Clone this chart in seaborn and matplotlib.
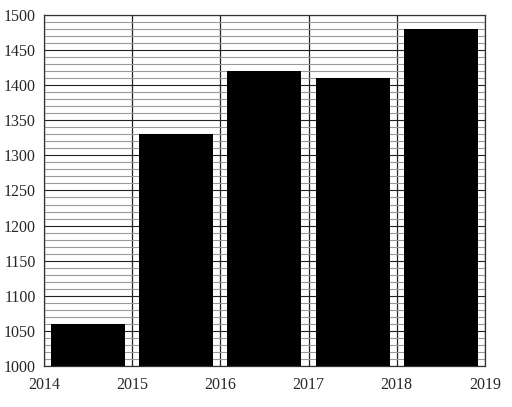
import numpy as np
import matplotlib
matplotlib.use('Agg')
import matplotlib.pyplot as plt
from matplotlib.ticker import MultipleLocator
import seaborn as sns

# data
periods = ['2014-2015', '2015-2016', '2016-2017', '2017-2018', '2018-2019']
values = [1060, 1330, 1420, 1410, 1480]
year_labels = ['2014', '2015', '2016', '2017', '2018', '2019']

sns.set_style('white')
plt.rcParams['font.family'] = ['Liberation Serif', 'DejaVu Serif']

fig = plt.figure(figsize=(5.12, 4.07), dpi=100)
ax = fig.add_axes([0.086, 0.101, 0.861, 0.862])

sns.barplot(x=periods, y=values, order=periods, color='black', saturation=1,
            width=0.84, linewidth=0, edgecolor='black', ax=ax, zorder=3)

ax.set_xlim(-0.5, len(periods) - 0.5)
ax.set_ylim(1000, 1500)
ax.set_xticks(np.arange(len(year_labels)) - 0.5)
ax.set_xticklabels(year_labels, fontsize=11.5)
ax.yaxis.set_major_locator(MultipleLocator(50))
ax.yaxis.set_minor_locator(MultipleLocator(10))
ax.tick_params(axis='y', labelsize=11.5, length=0, which='both', pad=6)
ax.tick_params(axis='x', length=0, pad=8)

ax.set_axisbelow(True)
ax.grid(which='minor', axis='y', color='#9a9a9a', lw=0.8)
ax.grid(which='major', axis='y', color='#222222', lw=0.8)
ax.grid(which='major', axis='x', color='#222222', lw=0.9)
for s in ax.spines.values():
    s.set_color('#333333')
    s.set_linewidth(0.9)
    s.set_visible(True)
ax.set_xlabel('')
ax.set_ylabel('')

fig.savefig('out.png', dpi=100)
